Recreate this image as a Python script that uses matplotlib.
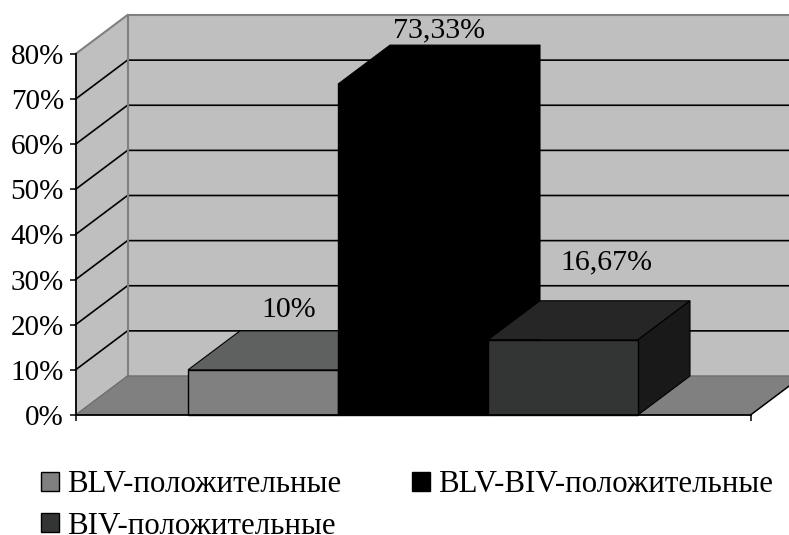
import matplotlib
matplotlib.use('Agg')
import matplotlib.pyplot as plt
from matplotlib.patches import Polygon, Patch
from matplotlib.transforms import IdentityTransform

series = ['BLV-положительные', 'BLV-BIV-положительные', 'BIV-положительные']
values = [10, 73.33, 16.67]
value_labels = ['10%', '73,33%', '16,67%']
yticks = [0, 10, 20, 30, 40, 50, 60, 70, 80]

front_colors = ['#808080', '#000000', '#333534']
top_colors = ['#5f6160', '#000000', '#262626']
side_colors = ['#404040', '#000000', '#191919']
label_offsets = [(26, 60), (26, 54), (43, 77)]

W, H = 789, 535
DEPTH_X, DEPTH_Y = 52, 39
GAP = 1 / 6
BAR_W = 2 / 9

plt.rcParams['font.family'] = ['Liberation Serif', 'DejaVu Serif']
plt.rcParams['font.size'] = 21.5

fig = plt.figure(figsize=(W / 100, H / 100), dpi=100)
ax = fig.add_axes([75.5 / W, 1 - 415 / H, 675 / W, 361 / H])
ax.set_xlim(0, 1)
ax.set_ylim(0, 80)
ax.patch.set_visible(False)
for name in ['top', 'right']:
    ax.spines[name].set_visible(False)
for name in ['left', 'bottom']:
    ax.spines[name].set_linewidth(1.3)
    ax.spines[name].set_zorder(20)
ax.set_xticks([0, 1])
ax.set_xticklabels([])
ax.set_yticks(yticks)
ax.set_yticklabels([f'{t}%' for t in yticks], va='center_baseline', fontsize=21)
ax.tick_params(length=4.3, width=1.1, pad=4)
for t in ax.xaxis.get_major_ticks() + ax.yaxis.get_major_ticks():
    t.tick1line.set_zorder(20)


def pt(x, y, back=0):
    # data point pushed along the oblique depth direction, in display pixels
    px, py = ax.transData.transform((x, y))
    return (px + back * DEPTH_X, py + back * DEPTH_Y)


def face(points, color, edge='none', lw=0, z=1):
    fig.add_artist(Polygon([pt(*p) for p in points], closed=True, facecolor=color,
                           edgecolor=edge, linewidth=lw, zorder=z,
                           transform=IdentityTransform(), clip_on=False))


def seg(points, color='black', lw=1.2, z=2):
    xy = [pt(*p) for p in points]
    fig.add_artist(plt.Line2D([p[0] for p in xy], [p[1] for p in xy], color=color,
                              linewidth=lw, zorder=z, transform=IdentityTransform()))


# walls and floor
face([(0, 0, 1), (1, 0, 1), (1, 80, 1), (0, 80, 1)], '#bfbfbf')
face([(0, 0, 0), (0, 0, 1), (0, 80, 1), (0, 80, 0)], '#bfbfbf')
face([(0, 0, 0), (0, 0, 1), (1, 0, 1), (1, 0, 0)], '#808080')

for t in yticks[1:-1]:
    seg([(0, t, 0), (0, t, 1), (1, t, 1)])
seg([(0, 80, 0), (0, 80, 1), (1, 80, 1)], color='#808080', lw=1.5)
seg([(0, 0, 1), (0, 80, 1)], color='#808080', lw=1.5)
seg([(0, 0, 0), (0, 0, 1), (1, 0, 1)], color='#6e6e6e', lw=1)
seg([(1, 0, 0), (1, 0, 1)], lw=1.1)

# bars, left to right so that each one covers the previous one
for i, v in enumerate(values):
    x0 = GAP + i * BAR_W
    x1 = x0 + BAR_W
    z = 3 + i
    face([(x0, v, 0), (x1, v, 0), (x1, v, 1), (x0, v, 1)], top_colors[i], 'black', 0.8, z)
    face([(x1, 0, 0), (x1, 0, 1), (x1, v, 1), (x1, v, 0)], side_colors[i], 'black', 0.8, z)
    face([(x0, 0, 0), (x1, 0, 0), (x1, v, 0), (x0, v, 0)], front_colors[i], 'black', 1.0, z)

# axes sit above figure artists only if drawn later
ax.set_zorder(10)
for i, v in enumerate(values):
    ax.annotate(value_labels[i], xy=(GAP + (i + 0.5) * BAR_W, v), xytext=label_offsets[i],
                textcoords='offset pixels', ha='center', va='center', annotation_clip=False)

handles = [Patch(facecolor=front_colors[i], edgecolor='black', linewidth=1.0) for i in range(3)]
order = [0, 2, 1]
fig.legend([handles[i] for i in order], [series[i] for i in order], ncols=2, frameon=False,
           loc='upper left', bbox_to_anchor=(41 / W, 1 - 470.5 / H), borderaxespad=0, borderpad=0,
           handlelength=0.58, handleheight=0.58, handletextpad=0.27, columnspacing=2.28,
           labelspacing=0.39, fontsize=22.2)

fig.savefig('out.png', dpi=100)
